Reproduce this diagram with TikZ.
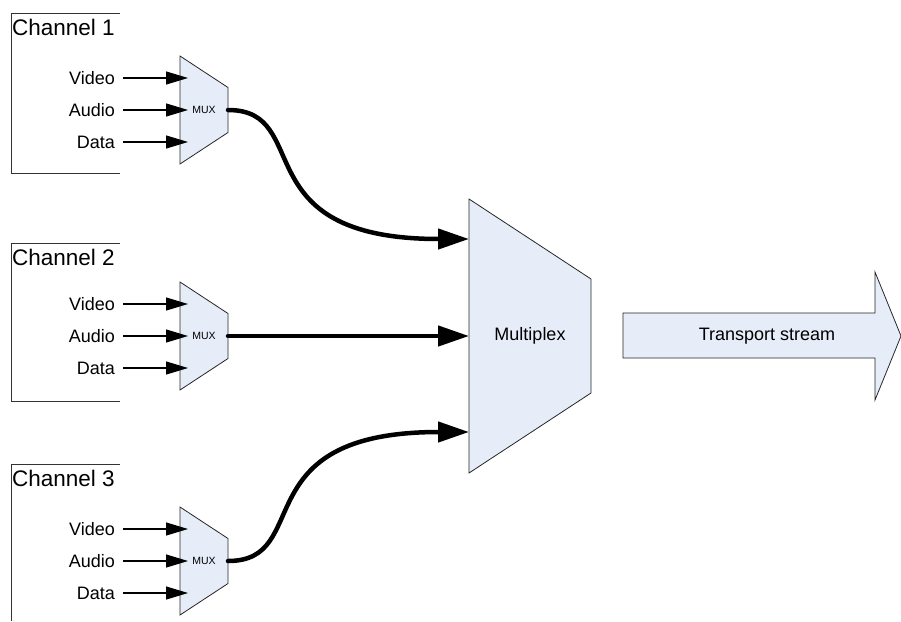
\documentclass[tikz,border=0pt]{standalone}
\usepackage{fontspec}
\setmainfont{Liberation Sans}
\usetikzlibrary{arrows.meta,calc}
\definecolor{boxfill}{RGB}{231,237,248}
\begin{document}
\begin{tikzpicture}[x=1pt,y=-1pt,
  shapeline/.style={draw=black!85,line width=0.8pt,fill=boxfill},
  chanline/.style={draw=black!80,line width=0.8pt},
  inarrow/.style={line width=1.2pt,-{Triangle[length=22pt,width=13pt]}},
  bigarrow/.style={line width=4.5pt,line cap=round,-{Triangle[length=31pt,width=20pt]}},
  lbl/.style={font=\fontsize{18}{20}\selectfont,inner sep=0pt,anchor=east},
  chlbl/.style={font=\fontsize{22.5}{25}\selectfont,inner sep=0pt,anchor=west},
  muxbox/.style={inner sep=0pt,outer sep=0pt,minimum width=48pt,minimum height=108pt},
]
\useasboundingbox (0,0) rectangle (901,621);

% channel frames
\draw[chanline] (120,13) -- (11,13) -- (11,173) -- (120,173);
\draw[chanline] (120,243) -- (11,243) -- (11,401) -- (120,401);
\draw[chanline] (120,464) -- (11,464) -- (11,621);

\foreach \i/\top/\my in {1/13/110, 2/243/336, 3/464/561}{
  \node[chlbl] (ch\i) at (12,\top+14.5) {Channel \i};
  \node[muxbox] (m\i) at (204,\my) {};
  \draw[shapeline] (m\i.north west) -- ([yshift=22.5pt]m\i.east) -- ([yshift=-22.5pt]m\i.east) -- (m\i.south west) -- cycle;
  \node[font=\fontsize{10.5}{12}\selectfont] (mt\i) at (m\i.center) {MUX};
  \node[lbl] (v\i) at (115,\my-32) {Video};
  \node[lbl] (a\i) at (115,\my) {Audio};
  \node[lbl] (d\i) at (115,\my+32) {Data};
  \draw[inarrow] ([xshift=8pt]v\i.east) -- ([xshift=8pt]v\i.east -| m\i.west);
  \draw[inarrow] ([xshift=8pt]a\i.east) -- ([xshift=8pt]a\i.east -| m\i.west);
  \draw[inarrow] ([xshift=8pt]d\i.east) -- ([xshift=8pt]d\i.east -| m\i.west);
}

% multiplexer
\node[inner sep=0pt,outer sep=0pt,minimum width=122pt,minimum height=274pt] (mp) at (530,336) {};
\draw[shapeline] (mp.north west) -- ([yshift=57pt]mp.east) -- ([yshift=-57pt]mp.east) -- (mp.south west) -- cycle;
\node[font=\fontsize{18}{20}\selectfont] (mpt) at (mp.center) {Multiplex};

\coordinate (in1) at ([yshift=97pt]mp.west);
\coordinate (in3) at ([yshift=-96pt]mp.west);
\draw[bigarrow] (m1.east) .. controls +(87,0) and +(-228,0) .. (in1);
\draw[bigarrow] (m2.east) -- (mp.west);
\draw[bigarrow] (m3.east) .. controls +(87,0) and +(-228,0) .. (in3);

% transport stream arrow
\draw[shapeline] (623,313) -- (875,313) -- (875,272) -- (901,336) -- (875,400) -- (875,358) -- (623,358) -- cycle;
\node[font=\fontsize{18}{20}\selectfont] (ts) at (767,336) {Transport stream};
\end{tikzpicture}
\end{document}
